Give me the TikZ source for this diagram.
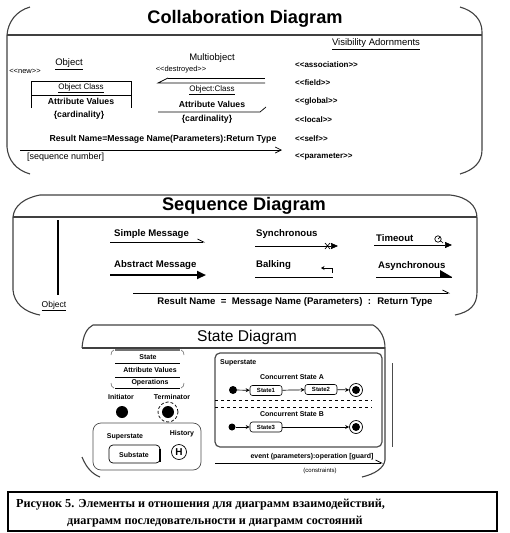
\documentclass[tikz,border=0pt]{standalone}
\usepackage{fontspec}
\setmainfont{Liberation Sans}
\newfontfamily\capfont{Liberation Serif}
\usetikzlibrary{arrows.meta}
\begin{document}
\begin{tikzpicture}[x=1pt,y=-1pt,
  frame/.style={line width=1.1pt,draw=black!75},
  thin/.style={line width=0.7pt},
  ttl/.style={inner sep=0pt,font=\fontsize{18.2}{20}\selectfont\bfseries},
  lb/.style={inner sep=0pt,font=\fontsize{8.7}{10}\selectfont\bfseries},
  sq/.style={inner sep=0pt,font=\fontsize{9.6}{11}\selectfont\bfseries},
  sm/.style={inner sep=0pt,font=\fontsize{8}{9}\selectfont},
  vis/.style={inner sep=0pt,anchor=west,font=\fontsize{8}{9}\selectfont\bfseries},
  st/.style={inner sep=0pt,font=\fontsize{7}{8}\selectfont\bfseries},
  sbox/.style={draw,rounded corners=2.5pt,line width=0.6pt,minimum width=32pt,minimum height=10pt,inner sep=0pt,font=\fontsize{6}{7}\selectfont\bfseries},
  dot/.style={circle,fill,inner sep=0pt,minimum size=#1},
  fin/.style={circle,draw,line width=0.7pt,inner sep=0pt,minimum size=13pt},
  arr/.style={thin,-{Stealth[length=4pt,width=4pt]}},
  barb/.style={thin,-{Straight Barb[harpoon,length=6pt,width=6pt]}},
  tri/.style={thin,-{Triangle[length=7pt,width=6pt]}},
  captxt/.style={anchor=west,inner sep=0pt,font=\capfont\fontsize{12.2}{14}\selectfont\bfseries}
]
\useasboundingbox (0,0) rectangle (510,533);
% ---------------- Collaboration ----------------
\draw[frame] (30,7) .. controls (16,11) and (8,22) .. (7,35) -- (7,147) .. controls (8,160) and (16,170) .. (30,174);
\draw[frame] (460,7) .. controls (474,11) and (482,20) .. (482,32) -- (482,150) .. controls (482,162) and (474,170) .. (460,174);
\draw[frame] (7,35) -- (482,35);
\node[ttl] (ct) at (245,19) {Collaboration Diagram};
\node[sm,font=\fontsize{9.5}{10}\selectfont] (obj) at (69,64) {\underline{Object}};
\node[sm,font=\fontsize{7.5}{9}\selectfont] (new) at (25,71) {<{}<new>{}>};
\draw[thin] (31,108) -- (31,81) -- (131,81) -- (131,108);
\draw[thin] (31,95) -- (131,95);
\node[sm] (ocl) at (81,88) {\underline{Object Class}};
\node[lb] (oav) at (81,101) {Attribute Values};
\node[lb] (ocard) at (79,115) {\{cardinality\}};
\node[sm,font=\fontsize{9.5}{10}\selectfont] (mo) at (212,58) {Multiobject};
\node[sm,font=\fontsize{7.5}{9}\selectfont] (des) at (181,70) {<{}<destroyed>{}>};
\draw[thin] (168,78) -- (265,78);
\draw[thin] (168,78) -- (158,83) -- (265,83);
\node[sm] (moc) at (212,90) {\underline{Object:Class}};
\node[lb] (mav) at (212,104) {Attribute Values};
\draw[thin] (158,112) -- (260,112) -- (266,107);
\node[lb] (mcard) at (207,119) {\{cardinality\}};
\node[lb] (res) at (163,139) {Result Name=Message Name(Parameters):Return Type};
\coordinate (ra) at (20,150); \coordinate (rb) at (282,150);
\draw[thin,-{Straight Barb[length=6pt,width=6pt]}] (ra) -- (rb);
\node[sm,anchor=west,font=\fontsize{9}{10}\selectfont] (seqn) at (27,157) {[sequence number]};
\node[sm,font=\fontsize{9.5}{10}\selectfont] (va) at (376,44) {\underline{Visibility Adornments}};
\node[vis] (v1) at (295,65) {<{}<association>{}>};
\node[vis] (v2) at (295,83) {<{}<field>{}>};
\node[vis] (v3) at (295,101) {<{}<global>{}>};
\node[vis] (v4) at (295,120) {<{}<local>{}>};
\node[vis] (v5) at (295,139) {<{}<self>{}>};
\node[vis] (v6) at (295,157) {<{}<parameter>{}>};
% ---------------- Sequence ----------------
\draw[frame] (40,195) -- (450,195) .. controls (468,197) and (477,206) .. (477,218) -- (477,292) .. controls (477,305) and (470,312) .. (455,315);
\draw[frame] (40,195) .. controls (24,198) and (14,206) .. (13,217) -- (13,290) .. controls (14,303) and (24,312) .. (40,315);
\draw[frame] (13,217) -- (477,217);
\node[ttl] (sqt) at (244,206) {Sequence Diagram};
\coordinate (l1) at (58,220); \coordinate (l2) at (58,295);
\draw[line width=2.6pt] (l1) -- (l2);
\node[sm,font=\fontsize{8.5}{10}\selectfont] (sobj) at (54,306) {\underline{Object}};
\node[sq,anchor=west] (simp) at (114,234) {Simple Message};
\coordinate (a1) at (110,242); \coordinate (a2) at (205,242);
\draw[barb] (a1) -- (a2);
\node[sq,anchor=west] (abst) at (114,265) {Abstract Message};
\coordinate (b1) at (110,275); \coordinate (b2) at (206,275);
\draw[line width=2.2pt,-{Triangle[length=9pt,width=8pt]}] (b1) -- (b2);
\node[sq,anchor=west] (sync) at (256,234) {Synchronous};
\coordinate (c1) at (255,246); \coordinate (c2) at (338,246);
\draw[tri] (c1) -- (c2);
\draw[thin] (325,243) -- (330,249) (325,249) -- (330,243);
\node[sq,anchor=west] (balk) at (256,265) {Balking};
\coordinate (d1) at (255,277); \coordinate (d2) at (333,277);
\draw[thin] (d1) -- (d2);
\draw[thin,-{Stealth[length=3.5pt,width=4pt]}] (332,273) -- (332,268) -- (321,268);
\node[sq,anchor=west] (tout) at (376,238) {Timeout};
\coordinate (e1) at (374,245); \coordinate (e2) at (452,245);
\draw[tri] (e1) -- (e2);
\draw[thin] (438,239) circle (3.2pt) (438,239) -- (440,237) (441,241) -- (443,243);
\node[sq,anchor=west] (async) at (378,266) {Asynchronous};
\coordinate (f1) at (376,277); \coordinate (f2) at (452,277);
\draw[thin] (f1) -- (f2);
\fill (452,277) -- (440,270) -- (440,277) -- cycle;
\coordinate (g1) at (133,293); \coordinate (g2) at (450,293);
\draw[barb] (g1) -- (g2);
\node[sq] (sres) at (295,302) {Result Name \ = \ Message Name (Parameters) \ : \ Return Type};
% ---------------- State ----------------
\draw[frame] (82,348) .. controls (83,335) and (87,328) .. (93,325) -- (373,325) .. controls (380,329) and (385,337) .. (385,348) -- (385,460) .. controls (384,468) and (375,474) .. (362,477);
\draw[frame] (82,348) -- (385,348);
\draw[frame] (82,457) .. controls (86,467) and (92,474) .. (100,477);
\draw[thin,black!70] (392,363) -- (392,447);
\node[ttl,font=\fontsize{15.6}{17}\selectfont] (stt) at (247,337) {State Diagram};
\draw[line width=1.6pt,black!55] (115,350) -- (180,350);
\draw[thin] (115,363) -- (180,363) (115,377) -- (180,377) (115,388) -- (180,388);
\draw[thin,black!50] (111,355) .. controls (111,352) and (112,351) .. (114,350);
\draw[thin,black!50] (184,355) .. controls (184,352) and (183,351) .. (181,350);
\draw[thin,black!50] (111,383) .. controls (111,386) and (112,387) .. (114,388);
\draw[thin,black!50] (184,383) .. controls (184,386) and (183,387) .. (181,388);
\node[st] (sst) at (148,357) {State};
\node[st] (sav) at (150,370) {Attribute Values};
\node[st] (sop) at (150,383) {Operations};
\node[st] (ini) at (121,397) {Initiator};
\node[dot=12pt] (inid) at (122,412) {};
\node[st] (ter) at (172,397) {Terminator};
\node[dot=12pt] (terd) at (168,412) {};
\draw[thin,densely dashed] (terd.center) circle (10pt);
\draw[thin,black!70,rounded corners=8pt] (93,423) rectangle (201,470);
\node[st] (sus) at (125,437) {Superstate};
\node[st] (his) at (182,434) {History};
\draw[thin,rounded corners=4pt] (109,445) rectangle (160,463);
\draw[line width=1.3pt] (160,449) -- (160,462);
\node[st] (sub) at (134,455) {Substate};
\node[circle,draw,thin,minimum size=15pt,inner sep=0pt,font=\fontsize{10}{11}\selectfont\bfseries] (hh) at (179,452) {H};
\draw[line width=1.2pt,black!70,rounded corners=5pt] (215,353) rectangle (382,447);
\node[st,anchor=west] (sup2) at (220,363) {Superstate};
\node[st] (csa) at (292,377) {Concurrent State A};
\node[dot=8pt] (ia) at (233,390) {};
\node[sbox] (s1) at (266,390.5) {State1};
\node[sbox] (s2) at (321,389.5) {State2};
\node[fin] (fa) at (356,390) {};
\node[dot=8pt] at (fa) {};
\draw[arr] (ia) -- (s1);
\draw[arr] (s1) -- (s2);
\draw[arr] (s2) -- (fa);
\draw[thin,dashed] (215,400) -- (372,400) (215,407) -- (372,407);
\node[st] (csb) at (292,414) {Concurrent State B};
\node[dot=7pt] (ib) at (232,427) {};
\node[sbox] (s3) at (266,427) {State3};
\node[fin] (fb) at (356,427) {};
\node[dot=8pt] at (fb) {};
\draw[arr] (ib) -- (s3);
\draw[arr] (s3) -- (fb);
\node[st] (ev) at (312,457) {event (parameters):operation [guard]};
\coordinate (h1) at (215,463); \coordinate (h2) at (383,463);
\draw[barb] (h1) -- (h2);
\node[inner sep=0pt,font=\fontsize{6}{7}\selectfont] (con) at (320,471) {(constraints)};
% ---------------- Caption ----------------
\draw[line width=1.2pt] (8,492) rectangle (497,531);
\node[captxt] (cap1) at (16,505) {Рисунок 5. Элементы и отношения для диаграмм взаимодействий,};
\node[captxt] (cap2) at (67,522) {диаграмм последовательности и диаграмм состояний};
\end{tikzpicture}
\end{document}
